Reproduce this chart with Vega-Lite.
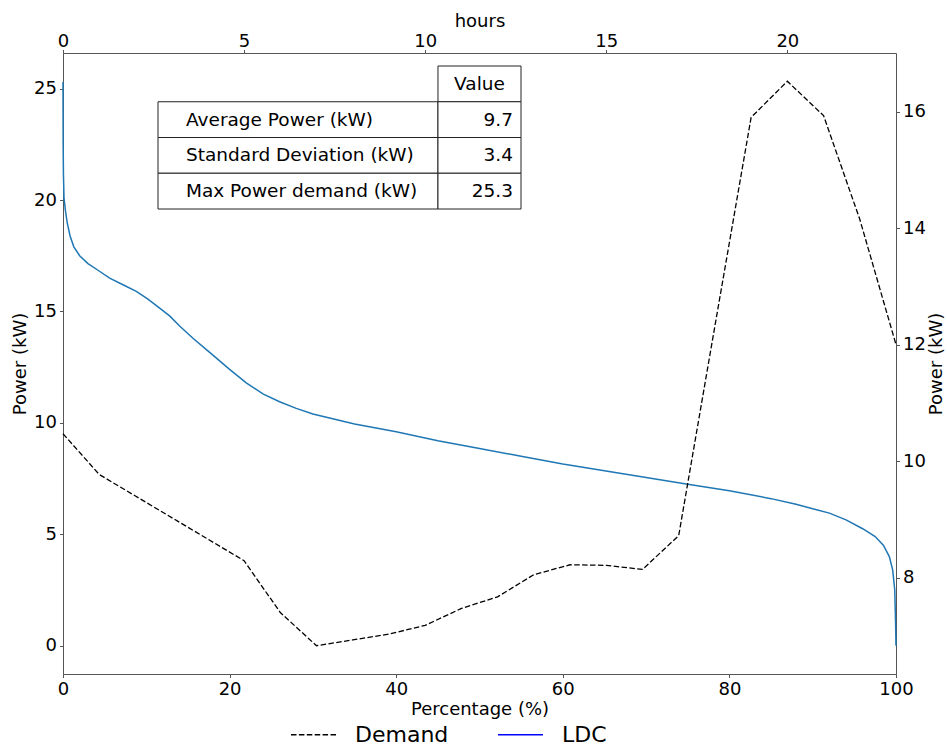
{
  "$schema": "https://vega.github.io/schema/vega-lite/v6.json",
  "width": 833,
  "height": 621,
  "autosize": {"type": "none"},
  "padding": {"left": 63, "top": 53, "right": 51, "bottom": 73},
  "background": "white",
  "config": {
    "font": "DejaVu Sans",
    "view": {"stroke": null},
    "axis": {
      "grid": false,
      "labelFont": "DejaVu Sans",
      "labelFontSize": 18,
      "labelColor": "black",
      "labelPadding": 3,
      "titleFont": "DejaVu Sans",
      "titleFontSize": 18,
      "titleFontWeight": "normal",
      "titleColor": "black",
      "domainColor": "#555555",
      "domainWidth": 1,
      "tickColor": "#555555",
      "tickSize": 3.5,
      "tickWidth": 1,
      "labelFlush": false,
      "labelOverlap": false,
      "labelBound": false
    }
  },
  "datasets": {
    "ldc": [
      {"pct": 0, "power": 25.3},
      {"pct": 0.02, "power": 22.5},
      {"pct": 0.05, "power": 21.2},
      {"pct": 0.12, "power": 20.1},
      {"pct": 0.3, "power": 19.5},
      {"pct": 0.5, "power": 19.0},
      {"pct": 0.84, "power": 18.4},
      {"pct": 1.3, "power": 17.9},
      {"pct": 2.0, "power": 17.5},
      {"pct": 3.0, "power": 17.15},
      {"pct": 4.2, "power": 16.85},
      {"pct": 5.6, "power": 16.5},
      {"pct": 7.2, "power": 16.2},
      {"pct": 8.8, "power": 15.9},
      {"pct": 10.2, "power": 15.55},
      {"pct": 11.6, "power": 15.15},
      {"pct": 12.8, "power": 14.8},
      {"pct": 14, "power": 14.35},
      {"pct": 15.6, "power": 13.8},
      {"pct": 17.5, "power": 13.2},
      {"pct": 20, "power": 12.4},
      {"pct": 22, "power": 11.8},
      {"pct": 24, "power": 11.3},
      {"pct": 26, "power": 10.95},
      {"pct": 28, "power": 10.65},
      {"pct": 30, "power": 10.4},
      {"pct": 35, "power": 9.95},
      {"pct": 40, "power": 9.6},
      {"pct": 45, "power": 9.2},
      {"pct": 50, "power": 8.85},
      {"pct": 55, "power": 8.5},
      {"pct": 60, "power": 8.15},
      {"pct": 65, "power": 7.85},
      {"pct": 70, "power": 7.55},
      {"pct": 75, "power": 7.25},
      {"pct": 80, "power": 6.95},
      {"pct": 85, "power": 6.6},
      {"pct": 88, "power": 6.35},
      {"pct": 90, "power": 6.15},
      {"pct": 92, "power": 5.95},
      {"pct": 94, "power": 5.65},
      {"pct": 96, "power": 5.25},
      {"pct": 97.5, "power": 4.9},
      {"pct": 98.5, "power": 4.5},
      {"pct": 99.2, "power": 4.0},
      {"pct": 99.6, "power": 3.4},
      {"pct": 99.85, "power": 2.5},
      {"pct": 99.95, "power": 1.0},
      {"pct": 100, "power": 0}
    ],
    "demand": [
      {"hour": 0, "power": 10.47},
      {"hour": 1, "power": 9.77},
      {"hour": 2, "power": 9.40},
      {"hour": 3, "power": 9.03},
      {"hour": 4, "power": 8.66},
      {"hour": 5, "power": 8.29},
      {"hour": 6, "power": 7.40},
      {"hour": 7, "power": 6.83},
      {"hour": 8, "power": 6.93},
      {"hour": 9, "power": 7.03},
      {"hour": 10, "power": 7.18},
      {"hour": 11, "power": 7.47},
      {"hour": 12, "power": 7.67},
      {"hour": 13, "power": 8.05},
      {"hour": 14, "power": 8.22},
      {"hour": 15, "power": 8.21},
      {"hour": 16, "power": 8.14},
      {"hour": 17, "power": 8.72},
      {"hour": 18, "power": 12.32},
      {"hour": 19, "power": 15.90},
      {"hour": 20, "power": 16.52},
      {"hour": 21, "power": 15.93},
      {"hour": 22, "power": 14.15},
      {"hour": 23, "power": 12.00}
    ],
    "stats": [
      {"metric": "header", "label": "", "value": "Value"},
      {"metric": "avg", "label": "Average Power (kW)", "value": "9.7"},
      {"metric": "std", "label": "Standard Deviation (kW)", "value": "3.4"},
      {"metric": "max", "label": "Max Power demand (kW)", "value": "25.3"}
    ]
  },
  "layer": [
    {
      "data": {"name": "ldc"},
      "mark": {"type": "line", "strokeWidth": 1.5, "color": "#1f77b4"},
      "encoding": {
        "x": {
          "field": "pct", "type": "quantitative",
          "scale": {"domain": [0, 100], "nice": false, "zero": false},
          "axis": {"orient": "bottom", "values": [0, 20, 40, 60, 80, 100], "title": "Percentage (%)", "titlePadding": 2}
        },
        "y": {
          "field": "power", "type": "quantitative",
          "scale": {"domain": [-1.27, 26.6], "nice": false, "zero": false},
          "axis": {"orient": "left", "values": [0, 5, 10, 15, 20, 25], "title": "Power (kW)", "titlePadding": 4}
        },
        "order": {"field": "pct", "type": "quantitative"}
      }
    },
    {
      "data": {"name": "demand"},
      "mark": {"type": "line", "strokeWidth": 1.3},
      "encoding": {
        "x": {
          "field": "hour", "type": "quantitative",
          "scale": {"domain": [0, 23], "nice": false, "zero": false},
          "axis": {"orient": "top", "values": [0, 5, 10, 15, 20], "title": "hours", "labelPadding": -1, "titlePadding": 2}
        },
        "y": {
          "field": "power", "type": "quantitative",
          "scale": {"domain": [6.345, 17.005], "nice": false, "zero": false},
          "axis": {"orient": "right", "values": [8, 10, 12, 14, 16], "title": "Power (kW)", "titleAngle": 270, "titleBaseline": "top", "titlePadding": 2}
        },
        "color": {
          "datum": "Demand",
          "scale": {"domain": ["Demand", "LDC"], "range": ["black", "blue"]},
          "legend": {
            "title": null,
            "orient": "none",
            "legendX": 227,
            "legendY": 658,
            "direction": "horizontal",
            "symbolType": "stroke",
            "symbolSize": 2025,
            "symbolStrokeWidth": 1.3,
            "labelFontSize": 22,
            "labelFont": "DejaVu Sans",
            "labelColor": "black",
            "labelOffset": 18,
            "columnPadding": 46,
            "padding": 0
          }
        },
        "strokeDash": {
          "datum": "Demand",
          "scale": {"domain": ["Demand", "LDC"], "range": [[5.5, 2.4], [1, 0]]}
        }
      }
    },
    {
      "data": {"name": "stats"},
      "encoding": {
        "y": {
          "field": "metric", "type": "nominal", "sort": null,
          "scale": {"domain": ["header", "avg", "std", "max"], "range": [13, 156], "paddingInner": 0, "paddingOuter": 0},
          "axis": null
        }
      },
      "layer": [
        {
          "transform": [{"filter": "datum.label != ''"}],
          "mark": {"type": "rect", "fill": "white", "stroke": "#222222", "strokeWidth": 1},
          "encoding": {
            "x": {"datum": 0, "type": "quantitative", "scale": {"domain": [0, 1], "range": [95, 458], "nice": false, "zero": false}, "axis": null},
            "x2": {"datum": 0.7713}
          }
        },
        {
          "mark": {"type": "rect", "fill": "white", "stroke": "#222222", "strokeWidth": 1},
          "encoding": {
            "x": {"datum": 0.7713, "type": "quantitative"},
            "x2": {"datum": 1}
          }
        },
        {
          "transform": [{"filter": "datum.label != ''"}],
          "mark": {"type": "text", "align": "left", "baseline": "middle", "fontSize": 18.5, "font": "DejaVu Sans", "color": "black"},
          "encoding": {
            "x": {"datum": 0.0771, "type": "quantitative"},
            "text": {"field": "label"}
          }
        },
        {
          "transform": [{"filter": "datum.label != ''"}],
          "mark": {"type": "text", "align": "right", "baseline": "middle", "fontSize": 18.5, "font": "DejaVu Sans", "color": "black"},
          "encoding": {
            "x": {"datum": 0.978, "type": "quantitative"},
            "text": {"field": "value"}
          }
        },
        {
          "transform": [{"filter": "datum.label == ''"}],
          "mark": {"type": "text", "align": "center", "baseline": "middle", "fontSize": 18.5, "font": "DejaVu Sans", "color": "black"},
          "encoding": {
            "x": {"datum": 0.8857, "type": "quantitative"},
            "text": {"field": "value"}
          }
        }
      ]
    }
  ],
  "resolve": {"scale": {"x": "independent", "y": "independent"}}
}
